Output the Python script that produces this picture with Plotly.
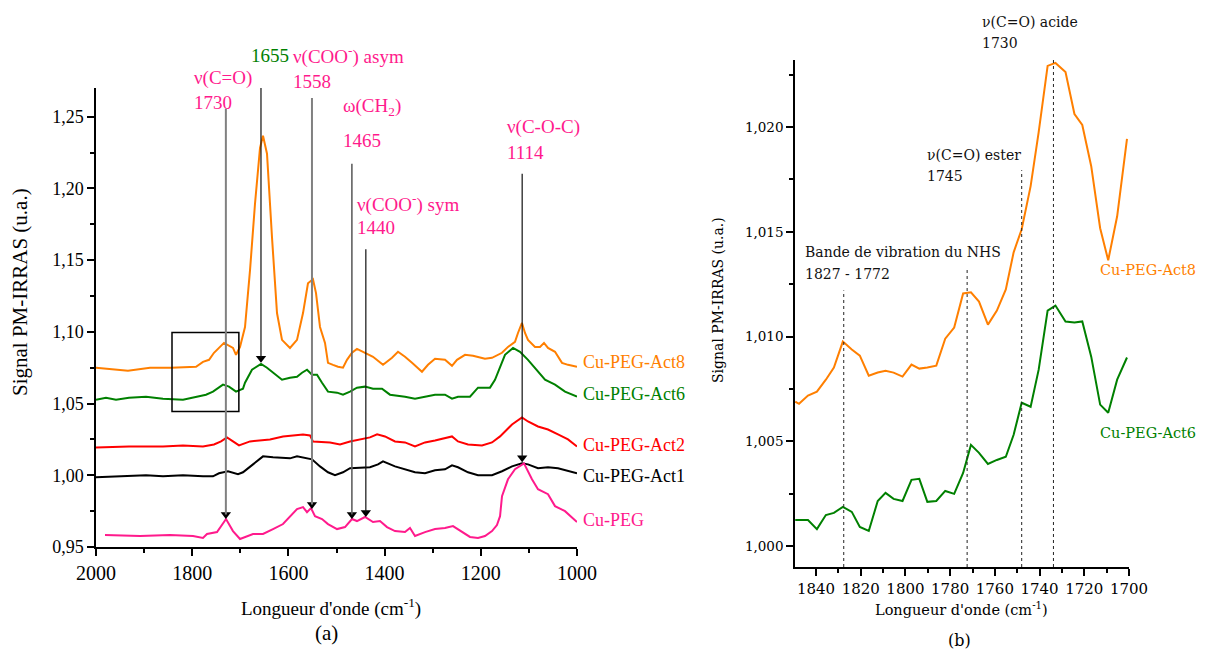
import plotly.graph_objects as go

W, H = 1205, 653

# ---------------- Panel (a) data : wavenumber (cm-1) / PM-IRRAS signal ----------------
wn_act8 = [2000, 1933.5, 1887.7, 1844, 1792, 1777.6, 1765, 1754.7, 1733.9, 1715.2, 1708.9, 1700.6,
           1690.2, 1679.8, 1669.4, 1659, 1652.8, 1644.5, 1634.1, 1623.7, 1613.3, 1596.7, 1582.1,
           1569.6, 1559.3, 1548.9, 1542.6, 1534.3, 1523.9, 1517.7, 1507.3, 1496.9, 1486.5, 1478.2,
           1467.8, 1457.4, 1440.7, 1424.1, 1403.3, 1384.6, 1372.1, 1357.6, 1343.0, 1332.7, 1322.3,
           1309.8, 1295.2, 1274.4, 1259.9, 1249.5, 1232.8, 1216.2, 1191.3, 1176.7, 1155.9, 1143.5,
           1128.9, 1122.7, 1114.4, 1108.1, 1101.9, 1087.3, 1076.9, 1068.6, 1060.3, 1045.7, 1031.2,
           1018.7, 1000]
act8 = [1.0750, 1.0729, 1.0750, 1.0750, 1.0757, 1.0791, 1.0805, 1.0854, 1.0923, 1.0888, 1.0840, 1.0895,
        1.1034, 1.1430, 1.1895, 1.2283, 1.2367, 1.2242, 1.1659, 1.1131, 1.0944, 1.0888, 1.0944,
        1.1131, 1.1339, 1.1367, 1.1270, 1.1034, 1.0923, 1.0784, 1.0770, 1.0757, 1.0750, 1.0805,
        1.0854, 1.0881, 1.0854, 1.0826, 1.0770, 1.0819, 1.0861, 1.0826, 1.0784, 1.0750, 1.0722,
        1.0770, 1.0812, 1.0805, 1.0763, 1.0805, 1.0840, 1.0833, 1.0812, 1.0819, 1.0854, 1.0895,
        1.0930, 1.0992, 1.1062, 1.0992, 1.0944, 1.0895, 1.0895, 1.0923, 1.0888, 1.0861, 1.0784,
        1.0770, 1.0757]

wn_act6 = [2000, 1979.2, 1958.4, 1931.4, 1896.0, 1860.7, 1819.1, 1792.1, 1771.3, 1756.8, 1736.0, 1723.5,
           1708.9, 1694.4, 1690.2, 1675.7, 1656.9, 1644.5, 1632.0, 1613.3, 1596.7, 1582.1, 1571.7,
           1561.3, 1550.9, 1540.5, 1530.1, 1517.7, 1498.9, 1486.5, 1471.9, 1457.4, 1440.7, 1424.1,
           1405.4, 1388.8, 1357.6, 1336.8, 1316.0, 1295.2, 1274.4, 1259.9, 1247.4, 1222.5, 1205.8,
           1180.9, 1170.5, 1160.0, 1149.7, 1133.0, 1118.5, 1101.9, 1087.3, 1066.5, 1045.7, 1024.9, 1000]
act6 = [1.0527, 1.0541, 1.0527, 1.0541, 1.0548, 1.0534, 1.0527, 1.0548, 1.0562, 1.0583, 1.0632, 1.0618,
        1.0583, 1.0604, 1.0645, 1.0736, 1.0777, 1.0750, 1.0715, 1.0666, 1.0680, 1.0687, 1.0715,
        1.0736, 1.0701, 1.0701, 1.0645, 1.0583, 1.0576, 1.0562, 1.0583, 1.0611, 1.0618, 1.0604,
        1.0604, 1.0562, 1.0548, 1.0534, 1.0548, 1.0562, 1.0562, 1.0534, 1.0548, 1.0548, 1.0611,
        1.0611, 1.0666, 1.0756, 1.0840, 1.0888, 1.0861, 1.0805, 1.0750, 1.0666, 1.0632, 1.0583, 1.0548]

wn_act2 = [2000, 1931.4, 1860.7, 1819.1, 1777.6, 1754.7, 1740.0, 1727.6, 1715.2, 1702.7, 1679.8, 1638.3,
           1611.2, 1590.4, 1569.6, 1555.1, 1548.9, 1513.5, 1492.7, 1471.9, 1451.1, 1430.4, 1415.6,
           1399.2, 1378.4, 1357.6, 1336.8, 1316.0, 1295.2, 1259.9, 1247.4, 1226.6, 1197.5, 1176.7,
           1160.0, 1135.1, 1114.4, 1101.9, 1081.1, 1060.3, 1039.5, 1018.7, 1000]
act2 = [1.0194, 1.0201, 1.0201, 1.0208, 1.0201, 1.0215, 1.0236, 1.0264, 1.0236, 1.0208, 1.0236, 1.0250,
        1.0271, 1.0278, 1.0285, 1.0278, 1.0236, 1.0229, 1.0215, 1.0236, 1.0250, 1.0264, 1.0285,
        1.0271, 1.0236, 1.0229, 1.0201, 1.0229, 1.0243, 1.0271, 1.0236, 1.0215, 1.0208, 1.0229,
        1.0271, 1.0354, 1.0403, 1.0375, 1.0340, 1.0319, 1.0285, 1.0250, 1.0201]

wn_act1 = [2000, 1931.4, 1896.0, 1860.7, 1819.1, 1777.6, 1756.8, 1744.3, 1725.6, 1704.8, 1694.4, 1673.6,
           1652.8, 1632.0, 1596.7, 1582.1, 1550.9, 1534.3, 1517.7, 1503.1, 1486.5, 1471.9, 1430.4,
           1413.7, 1403.3, 1378.4, 1357.6, 1336.8, 1316.0, 1295.2, 1274.4, 1259.9, 1247.4, 1226.6,
           1205.8, 1176.7, 1155.9, 1135.1, 1114.4, 1101.9, 1081.1, 1060.3, 1039.5, 1000]
act1 = [0.9986, 0.9993, 1.0000, 0.9993, 1.0000, 0.9993, 0.9993, 1.0014, 1.0028, 1.0007, 1.0021, 1.0076,
        1.0132, 1.0125, 1.0118, 1.0132, 1.0111, 1.0062, 1.0021, 1.0000, 1.0021, 1.0049, 1.0056,
        1.0076, 1.0097, 1.0062, 1.0042, 1.0021, 1.0014, 1.0035, 1.0042, 1.0069, 1.0056, 1.0021,
        1.0000, 1.0000, 1.0028, 1.0062, 1.0083, 1.0076, 1.0049, 1.0056, 1.0049, 1.0014]

wn_peg = [1981.3, 1908.5, 1846.1, 1798.3, 1777.6, 1769.2, 1748.4, 1729.7, 1715.2, 1700.6, 1673.6, 1652.8,
          1632.0, 1611.2, 1582.1, 1569.6, 1561.3, 1553.0, 1544.7, 1530.1, 1517.7, 1498.9, 1482.3,
          1467.8, 1457.4, 1440.7, 1424.1, 1409.6, 1395.0, 1378.4, 1357.6, 1347.2, 1336.8, 1316.0,
          1295.2, 1274.4, 1257.8, 1239.1, 1222.5, 1205.8, 1191.3, 1176.7, 1166.4, 1160.0, 1155.9,
          1143.5, 1128.9, 1110.2, 1093.6, 1081.1, 1060.3, 1045.7, 1024.9, 1000]
peg = [0.9584, 0.9577, 0.9584, 0.9577, 0.9563, 0.9591, 0.9604, 0.9695, 0.9611, 0.9556, 0.9591, 0.9591,
       0.9625, 0.9660, 0.9764, 0.9778, 0.9743, 0.9771, 0.9715, 0.9695, 0.9660, 0.9625, 0.9639,
       0.9695, 0.9681, 0.9709, 0.9674, 0.9681, 0.9639, 0.9611, 0.9604, 0.9632, 0.9577, 0.9604,
       0.9625, 0.9632, 0.9646, 0.9604, 0.9570, 0.9563, 0.9577, 0.9611, 0.9653, 0.9715, 0.9854,
       0.9972, 1.0042, 1.0083, 0.9972, 0.9903, 0.9868, 0.9785, 0.9750, 0.9674]

# peak arrows (a): x position, tail y, head y
arrow_x = [1730, 1657, 1551, 1468, 1439, 1114]
arrow_tail = [1.2555, 1.2762, 1.2630, 1.2172, 1.1575, 1.2103]
arrow_head = [0.9695, 1.0784, 0.9764, 0.9695, 0.9709, 1.0090]
arrow_col = ["#808080", "#111111", "#808080", "#606060", "#111111", "#111111"]
arrow_w = [2, 1.2, 2, 1.6, 1.2, 1.2]

# zoom box (a)
box_x = [1842, 1703]
box_y = [1.0444, 1.0995]

# ---------------- Panel (b) data ----------------
wn_zoom = [1849.3, 1847.6, 1843.6, 1839.6, 1835.6, 1832.0, 1828.0, 1824.0, 1820.4, 1816.4, 1812.4,
           1808.9, 1805.3, 1801.3, 1797.3, 1793.8, 1790.2, 1786.2, 1782.2, 1778.2, 1774.2, 1770.7,
           1767.1, 1763.1, 1759.1, 1755.1, 1751.6, 1748.0, 1744.0, 1740.4, 1736.4, 1732.9, 1728.4,
           1724.4, 1720.9, 1716.9, 1712.9, 1709.3, 1705.3, 1700.9]
act8_zoom = [1.00689, 1.00679, 1.00718, 1.00737, 1.00794, 1.00852, 1.00976, 1.00938, 1.00909, 1.00813,
             1.00828, 1.00837, 1.00828, 1.00809, 1.00866, 1.00847, 1.00852, 1.00861, 1.00990, 1.01043,
             1.01206, 1.01211, 1.01167, 1.01057, 1.01124, 1.01225, 1.01402, 1.01512, 1.01718, 1.01976,
             1.02292, 1.02306, 1.02263, 1.02062, 1.02010, 1.01813, 1.01517, 1.01364, 1.01574, 1.01943]
act6_zoom = [1.00124, 1.00124, 1.00124, 1.00081, 1.00148, 1.00158, 1.00187, 1.00163, 1.00091, 1.00072,
             1.00215, 1.00254, 1.00225, 1.00215, 1.00316, 1.00321, 1.00211, 1.00215, 1.00263, 1.00249,
             1.00349, 1.00483, 1.00445, 1.00392, 1.00411, 1.00426, 1.00531, 1.00684, 1.00665, 1.00842,
             1.01124, 1.01148, 1.01072, 1.01067, 1.01072, 1.00904, 1.00675, 1.00636, 1.00794, 1.00900]

band_x = [1827.6, 1772.4, 1748.0, 1733.8]
band_top = [1.0122, 1.0132, 1.01794, 1.02445]

ORANGE, GREEN, RED, BLACK, PINK = "#ff7f00", "#008000", "#ff0000", "#000000", "#ff1a8c"
FA = "Liberation Serif, Times New Roman, serif"
FB = "DejaVu Serif, serif"

def px(x):
    return x / W

def py(y):
    return 1 - y / H

fig = go.Figure()
for xs, ys, c in [(wn_act8, act8, ORANGE), (wn_act6, act6, GREEN), (wn_act2, act2, RED),
                  (wn_act1, act1, BLACK), (wn_peg, peg, PINK)]:
    fig.add_trace(go.Scatter(x=xs, y=ys, mode="lines", line=dict(color=c, width=2),
                             xaxis="x", yaxis="y", showlegend=False, hoverinfo="skip"))
for ys, c in [(act8_zoom, ORANGE), (act6_zoom, GREEN)]:
    fig.add_trace(go.Scatter(x=wn_zoom, y=ys, mode="lines", line=dict(color=c, width=2),
                             xaxis="x2", yaxis="y2", showlegend=False, hoverinfo="skip"))

# arrow heads (a): small black triangles whose tips sit on the peak
head_half = 0.0032  # half of the marker height in signal units
fig.add_trace(go.Scatter(x=arrow_x, y=[h + head_half for h in arrow_head], mode="markers",
                         marker=dict(symbol="triangle-down", size=9, color="black",
                                     line=dict(width=0)),
                         xaxis="x", yaxis="y", showlegend=False, hoverinfo="skip", cliponaxis=False))

axis_common = dict(showgrid=False, zeroline=False, showline=True, linecolor="black", linewidth=1.5,
                   ticks="outside", tickcolor="black", tickwidth=1.5, ticklen=7, mirror=False,
                   automargin=False)

fig.update_layout(
    width=W, height=H, margin=dict(l=0, r=0, t=0, b=0),
    paper_bgcolor="white", plot_bgcolor="white", separators=",.",
    xaxis=dict(domain=[px(96), px(577)], range=[2000, 1000], anchor="y", tickmode="array",
               tickvals=[2000, 1800, 1600, 1400, 1200, 1000], tickformat="d",
               tickfont=dict(family=FA, size=20, color="black"),
               minor=dict(dtick=100, ticks="outside", ticklen=4, tickcolor="black"), **axis_common),
    yaxis=dict(domain=[py(547), py(88)], range=[0.95, 1.27], anchor="x", dtick=0.05, tick0=0.95,
               tickformat=".2f", tickfont=dict(family=FA, size=18, color="black"),
               minor=dict(dtick=0.025, ticks="outside", ticklen=4, tickcolor="black"), **axis_common),
    xaxis2=dict(domain=[px(795), px(1129)], range=[1849.4, 1700], anchor="y2", dtick=20, tick0=1700,
                tickformat="d", tickfont=dict(family=FB, size=15, color="black"),
                minor=dict(dtick=10, ticks="outside", ticklen=4, tickcolor="black"), **axis_common),
    yaxis2=dict(domain=[py(567), py(60)], range=[0.999, 1.0232], anchor="x2", dtick=0.005, tick0=1.0,
                tickformat=".3f", tickfont=dict(family=FB, size=13.5, color="black"),
                minor=dict(dtick=0.0025, ticks="outside", ticklen=4, tickcolor="black"), **axis_common),
)

ann = []

def txt(x, y, s, size, color, font=FA, xanchor="left", angle=0):
    ann.append(dict(x=px(x), y=py(y), xref="paper", yref="paper", text=s, showarrow=False,
                    xanchor=xanchor, yanchor="middle", textangle=angle,
                    font=dict(family=font, size=size, color=color)))

# Panel (a) peak labels
txt(192, 78, "ν(C=O)", 19, PINK)
txt(192, 102, "1730", 19, PINK)
txt(249, 56, "1655", 19, GREEN)
txt(291, 56, "ν(COO<sup>-</sup>) asym", 19, PINK)
txt(291, 82, "1558", 19, PINK)
txt(341, 107, "ω(CH<sub>2</sub>)", 19, PINK)
txt(341, 141, "1465", 19, PINK)
txt(355, 203, "ν(COO<sup>-</sup>) sym", 19, PINK)
txt(355, 227, "1440", 19, PINK)
txt(505, 127, "ν(C-O-C)", 19, PINK)
txt(505, 153, "1114", 19, PINK)

# series labels (a)
for s, yy, c in [("Cu-PEG-Act8", 362, ORANGE), ("Cu-PEG-Act6", 394, GREEN), ("Cu-PEG-Act2", 445, RED),
                 ("Cu-PEG-Act1", 476, BLACK), ("Cu-PEG", 520, PINK)]:
    txt(581, yy, s, 18, c)

# axis titles (a)
txt(20, 292, "Signal PM-IRRAS (u.a.)", 21, "black", xanchor="center", angle=-90)
txt(331, 607, "Longueur d'onde (cm<sup>-1</sup>)", 19, "black", xanchor="center")
txt(326, 633, "(a)", 21, "black", xanchor="center")

shapes = [dict(type="rect", xref="x", yref="y", x0=box_x[0], x1=box_x[1], y0=box_y[0], y1=box_y[1],
               line=dict(color="black", width=1.5))]

# arrow shafts (a)
for xv, yt, yh, c, w in zip(arrow_x, arrow_tail, arrow_head, arrow_col, arrow_w):
    shapes.append(dict(type="line", xref="x", yref="y", x0=xv, x1=xv, y0=yt, y1=yh + head_half,
                       line=dict(color=c, width=w)))

# Panel (b) labels
txt(980, 22, "ν(C=O) acide", 14, "#111111", font=FB)
txt(980, 43, "1730", 14, "#111111", font=FB)
txt(925, 155, "ν(C=O) ester", 14, "#111111", font=FB)
txt(925, 176, "1745", 14, "#111111", font=FB)
txt(803, 252, "Bande de vibration du NHS", 14, "#111111", font=FB)
txt(803, 274, "1827 - 1772", 14, "#111111", font=FB)
txt(1098, 270, "Cu-PEG-Act8", 14.5, ORANGE, font=FB)
txt(1098, 433, "Cu-PEG-Act6", 14.5, GREEN, font=FB)
txt(718, 300, "Signal PM-IRRAS (u.a.)", 14, "black", font=FB, xanchor="center", angle=-90)
txt(961, 609, "Longueur d'onde (cm<sup>-1</sup>)", 14.5, "black", font=FB, xanchor="center")
txt(960, 640, "(b)", 16, "black", font=FB, xanchor="center")

for bx, bt in zip(band_x, band_top):
    shapes.append(dict(type="line", xref="x2", yref="y2", x0=bx, x1=bx, y0=0.999, y1=bt,
                       line=dict(color="#222222", width=1, dash="dot")))

fig.update_layout(annotations=ann, shapes=shapes)

fig.write_html("out.html", config={"displayModeBar": False},
               post_script="document.body.style.margin='0';document.body.style.overflow='hidden';")
